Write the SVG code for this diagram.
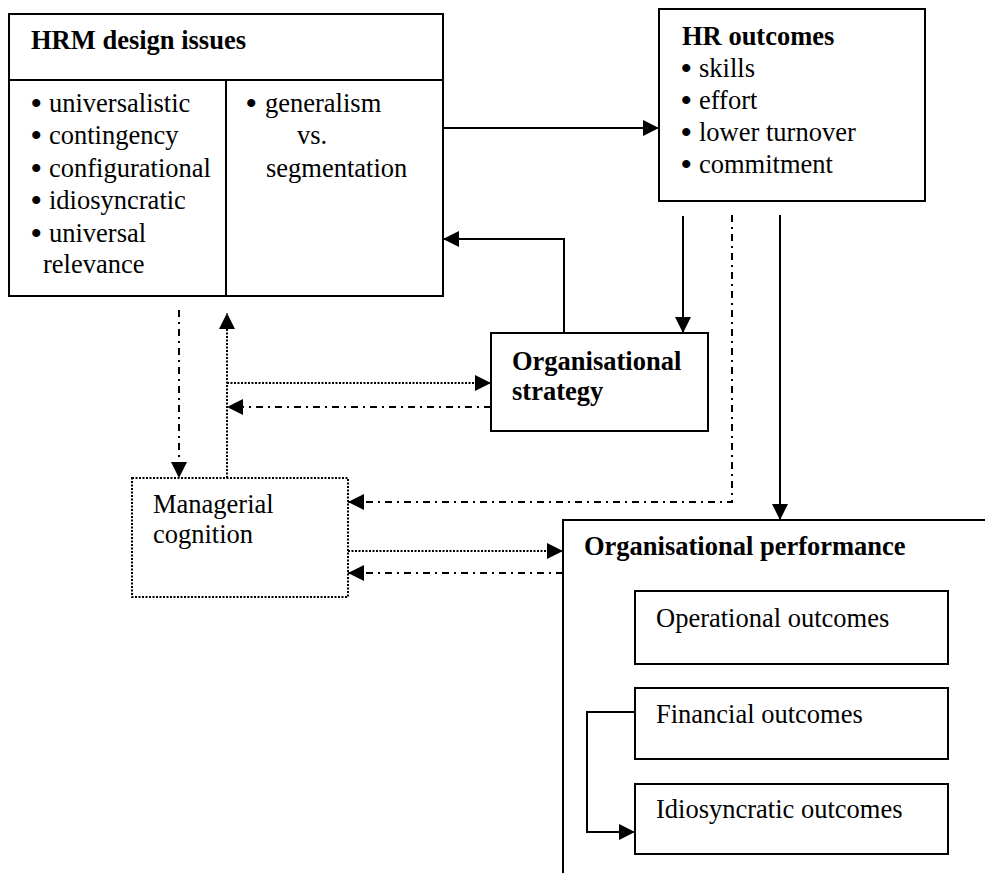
<svg xmlns="http://www.w3.org/2000/svg" width="985" height="873" viewBox="0 0 985 873">
  <style>
    .box { fill: #fff; stroke: #000; stroke-width: 2; }
    .open { fill: none; stroke: #000; stroke-width: 2; }
    .dotbox { fill: #fff; stroke: #000; stroke-width: 2; stroke-dasharray: 2 1.5; }
    .t { font-family: "Liberation Serif", "Times New Roman", serif; font-size: 26.5px; fill: #000; }
    .b { font-weight: bold; }
    .bul { font-size: 30px; font-weight: bold; }
    .solid { fill: none; stroke: #000; stroke-width: 2; }
    .dot { fill: none; stroke: #000; stroke-width: 2; stroke-dasharray: 2 1.5; }
    .dashdot { fill: none; stroke: #000; stroke-width: 2; stroke-dasharray: 7 5 2 5; }
  </style>
  <defs>
    <marker id="arrow" markerUnits="userSpaceOnUse" markerWidth="16" markerHeight="16" refX="16" refY="8" orient="auto">
      <path d="M0,0 L16,8 L0,16 z" fill="#000"/>
    </marker>
  </defs>

  <rect width="985" height="873" fill="#fff"/>

  <!-- HRM design issues -->
  <g id="hrm-design">
    <rect class="box" x="9" y="14" width="434" height="282"/>
    <line class="open" x1="9" y1="80" x2="443" y2="80"/>
    <line class="open" x1="226" y1="80" x2="226" y2="296"/>
    <text class="t b" x="31" y="49">HRM design issues</text>
    <text class="t"><tspan class="bul" x="31" y="113">•</tspan><tspan x="49" y="112">universalistic</tspan></text>
    <text class="t"><tspan class="bul" x="31" y="145">•</tspan><tspan x="49" y="144">contingency</tspan></text>
    <text class="t"><tspan class="bul" x="31" y="178">•</tspan><tspan x="49" y="177">configurational</tspan></text>
    <text class="t"><tspan class="bul" x="31" y="210">•</tspan><tspan x="49" y="209">idiosyncratic</tspan></text>
    <text class="t"><tspan class="bul" x="31" y="243">•</tspan><tspan x="49" y="242">universal</tspan></text>
    <text class="t" x="43" y="273">relevance</text>
    <text class="t"><tspan class="bul" x="246" y="113">•</tspan><tspan x="265" y="112">generalism</tspan></text>
    <text class="t" x="297" y="144">vs.</text>
    <text class="t" x="266" y="177">segmentation</text>
  </g>

  <!-- HR outcomes -->
  <g id="hr-outcomes">
    <rect class="box" x="659" y="9" width="266" height="192"/>
    <text class="t b" x="682" y="45">HR outcomes</text>
    <text class="t"><tspan class="bul" x="681" y="78">•</tspan><tspan x="699" y="77">skills</tspan></text>
    <text class="t"><tspan class="bul" x="681" y="110">•</tspan><tspan x="699" y="109">effort</tspan></text>
    <text class="t"><tspan class="bul" x="681" y="142">•</tspan><tspan x="699" y="141">lower turnover</tspan></text>
    <text class="t"><tspan class="bul" x="681" y="174">•</tspan><tspan x="699" y="173">commitment</tspan></text>
  </g>

  <!-- Organisational strategy -->
  <g id="org-strategy">
    <rect class="box" x="491" y="333" width="217" height="98"/>
    <text class="t b" x="512" y="370">Organisational</text>
    <text class="t b" x="512" y="400">strategy</text>
  </g>

  <!-- Managerial cognition -->
  <g id="managerial-cognition">
    <rect class="dotbox" x="132" y="478" width="216" height="119"/>
    <text class="t" x="153" y="513">Managerial</text>
    <text class="t" x="153" y="543">cognition</text>
  </g>

  <!-- Organisational performance (open frame) -->
  <g id="org-performance">
    <path class="open" d="M985,520 H563 V873"/>
    <text class="t b" x="584" y="555">Organisational performance</text>
  </g>

  <g id="operational-outcomes">
    <rect class="box" x="635" y="591" width="313" height="73"/>
    <text class="t" x="656" y="627">Operational outcomes</text>
  </g>

  <g id="financial-outcomes">
    <rect class="box" x="635" y="688" width="313" height="71"/>
    <text class="t" x="656" y="723">Financial outcomes</text>
  </g>

  <g id="idiosyncratic-outcomes">
    <rect class="box" x="635" y="784" width="313" height="70"/>
    <text class="t" x="656" y="818">Idiosyncratic outcomes</text>
  </g>

  <!-- Connectors -->
  <g id="connectors">
    <path class="solid" d="M443,128 H659" marker-end="url(#arrow)"/>
    <path class="solid" d="M564,333 V239 H443" marker-end="url(#arrow)"/>
    <path class="solid" d="M683,216 V333" marker-end="url(#arrow)"/>
    <path class="solid" d="M780,215 V520" marker-end="url(#arrow)"/>
    <path class="dashdot" d="M732,215 V502 H348" marker-end="url(#arrow)"/>
    <path class="dashdot" d="M179,310 V478" marker-end="url(#arrow)"/>
    <path class="dot" d="M227,478 V313" marker-end="url(#arrow)"/>
    <path class="dot" d="M227,383 H491" marker-end="url(#arrow)"/>
    <path class="dashdot" d="M491,407 H227" marker-end="url(#arrow)"/>
    <path class="dot" d="M348,551 H563" marker-end="url(#arrow)"/>
    <path class="dashdot" d="M563,573 H348" marker-end="url(#arrow)"/>
    <path class="solid" d="M635,712 H587 V832 H635" marker-end="url(#arrow)"/>
  </g>
</svg>
